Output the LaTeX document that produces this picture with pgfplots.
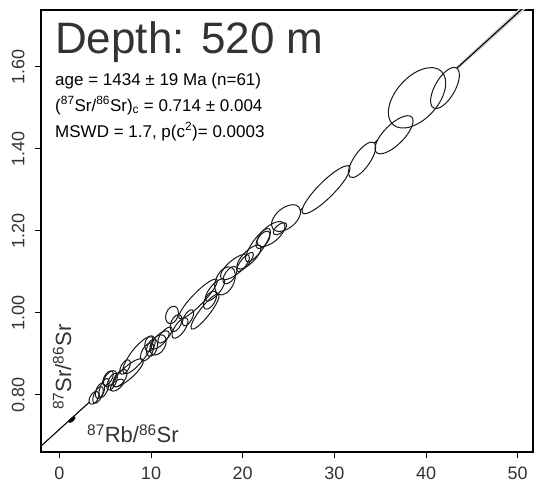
\documentclass[border=0pt]{standalone}
\usepackage{pgfplots}
\pgfplotsset{compat=1.18}
\usepackage{pgfplotstable}
\usepackage{fontspec}
\setmainfont{Liberation Sans}
\definecolor{txt}{HTML}{333333}

\def\ellpath{%
  \pgfmathsetmacro\angb{\eang+90}%
  \pgfpathellipse{\pgfpointorigin}{\pgfpointpolar{\eang}{\ea pt}}{\pgfpointpolar{\angb}{\eb pt}}}
\pgfdeclareplotmark{ellfill}{\ellpath\pgfusepathqfill}
\pgfdeclareplotmark{ellline}{\ellpath\pgfusepathqstroke}
\pgfdeclareplotmark{ellboth}{\ellpath\pgfusepathqfillstroke}

% x y semi-major(pt) semi-minor(pt) angle(deg)
\pgfplotstableread{
x y a b ang
39.02 1.524 36 21 48
42.07 1.548 23 10 60
36.51 1.434 25 10 45
33.02 1.373 21 8 55
29.09 1.300 33 8 45
24.73 1.231 17 10 40
24.07 1.205 8 4 40
23.09 1.192 17 8 40
22.22 1.178 10 5 55
21.67 1.165 20 6 55
20.69 1.136 16 6 45
20.26 1.124 12 4 50
19.16 1.112 18 7 40
18.62 1.092 10 5 55
18.07 1.078 15 9 65
16.44 1.031 10 5 60
15.13 1.034 27 6 46
15.89 1.003 22 5 52
16.98 1.056 14 5 50
14.04 0.988 9 4 60
13.16 0.963 12 5 55
12.29 0.995 9 6 70
12.73 0.975 9 5 65
11.53 0.946 10 4 50
10.98 0.934 12 5 45
10.77 0.922 11 7 60
10.11 0.915 9 5 70
9.89 0.925 8 5 75
9.57 0.905 10 5 60
8.58 0.897 23 7 52
7.49 0.854 20 6 42
7.17 0.868 8 4 60
6.62 0.841 10 5 55
6.29 0.824 8 4 40
5.75 0.832 9 4 65
5.53 0.840 9 5 55
5.31 0.841 8 4 60
4.88 0.817 10 4 70
4.44 0.810 8 4 70
4.22 0.800 9 4 65
3.78 0.793 7 4 60
}\ellipses

\pgfplotstableread{
x y a b ang
1.39 0.740 4 1.6 42
}\tinypt

\begin{document}
\begin{tikzpicture}
\useasboundingbox (-41pt,-38pt) rectangle (493pt,452pt);
\begin{axis}[
  scale only axis, width=492pt, height=442pt,
  xmin=-2, xmax=51.67, ymin=0.661, ymax=1.738,
  xtick={0,10,20,30,40,50},
  ytick={0.8,1.0,1.2,1.4,1.6},
  xtick pos=left, ytick pos=left,
  tick align=outside, major tick length=6pt,
  /pgf/number format/assume math mode=true,
  ticklabel style={font=\fontsize{18}{18}\selectfont, text=txt},
  yticklabel shift=7pt, xticklabel shift=5pt,
  yticklabel style={rotate=90, anchor=south,
    /pgf/number format/fixed, /pgf/number format/fixed zerofill,
    /pgf/number format/precision=2},
  axis line style={black, line width=1.3pt},
  tick style={black, line width=1pt},
]
% confidence band near the upper end
\addplot[fill=gray!35, draw=none] coordinates {(32,1.3646) (52,1.7636) (52,1.7796) (32,1.3666)} -- cycle;
% isochron line
\addplot[black, line width=1.1pt] coordinates {(-2,0.6754) (52,1.7716)};
% error ellipses: white fill, then outlines
\addplot[scatter, only marks, mark=ellfill,
  scatter/use mapped color={fill=white},
  visualization depends on={\thisrow{a}\as\ea},
  visualization depends on={\thisrow{b}\as\eb},
  visualization depends on={\thisrow{ang}\as\eang},
] table[x=x, y=y] {\ellipses};
\addplot[scatter, only marks, mark=ellline, line width=1pt,
  scatter/use mapped color={draw=black!90},
  visualization depends on={\thisrow{a}\as\ea},
  visualization depends on={\thisrow{b}\as\eb},
  visualization depends on={\thisrow{ang}\as\eang},
] table[x=x, y=y] {\ellipses};
\addplot[scatter, only marks, mark=ellboth, line width=0.6pt,
  scatter/use mapped color={draw=black, fill=black},
  visualization depends on={\thisrow{a}\as\ea},
  visualization depends on={\thisrow{b}\as\eb},
  visualization depends on={\thisrow{ang}\as\eang},
] table[x=x, y=y] {\tinypt};

\node[anchor=base west, inner sep=0, font=\fontsize{44}{44}\selectfont, text=txt]
  at (rel axis cs:0.0285,0.9005) {Depth: 520 m};
\node[anchor=base west, inner sep=0, font=\fontsize{17}{17}\selectfont, text=black]
  at (rel axis cs:0.0285,0.8303) {age = 1434 ± 19 Ma (n=61)};
\node[anchor=base west, inner sep=0, font=\fontsize{17}{17}\selectfont, text=black]
  at (rel axis cs:0.0285,0.7714) {(\textsuperscript{87}Sr/\textsuperscript{86}Sr)\textsubscript{c} = 0.714 ± 0.004};
\node[anchor=base west, inner sep=0, font=\fontsize{17}{17}\selectfont, text=black]
  at (rel axis cs:0.0285,0.7126) {MSWD = 1.7, p(c\textsuperscript{2})= 0.0003};
\node[rotate=90, anchor=center, inner sep=0, font=\fontsize{22}{22}\selectfont, text=txt]
  at (rel axis cs:0.0427,0.192) {\textsuperscript{87}Sr/\textsuperscript{86}Sr};
\node[anchor=base west, inner sep=0, font=\fontsize{22}{22}\selectfont, text=txt]
  at (rel axis cs:0.0935,0.0204) {\textsuperscript{87}Rb/\textsuperscript{86}Sr};
\end{axis}
\end{tikzpicture}
\end{document}
